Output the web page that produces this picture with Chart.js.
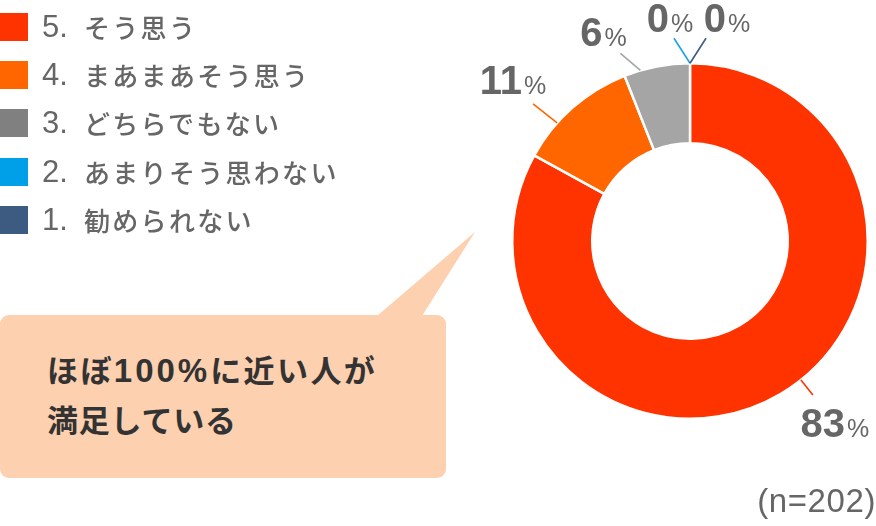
<!DOCTYPE html>
<html>
<head>
<meta charset="utf-8">
<script src="https://cdn.jsdelivr.net/npm/chart.js@4.4.1/dist/chart.umd.min.js"></script>
<style>
  html, body { margin:0; padding:0; background:#fff; }
  #wrap { position:relative; width:876px; height:526px; overflow:hidden; }
  #c { position:absolute; left:0; top:0; }
  #legend { position:absolute; left:0; top:0; color:#666; }
  .row { position:absolute; left:0; height:28px; white-space:nowrap; }
  .sw { position:absolute; left:0; top:0; width:28px; height:28px; }
  .ln { position:absolute; left:42px; top:-3px; font-family:"Liberation Sans",Arial,sans-serif; font-size:31px; line-height:34px; }
  .lt { position:absolute; left:84px; top:-4px; font-family:"Noto Sans CJK JP",sans-serif; font-weight:500; font-size:26px; line-height:36px; letter-spacing:2.3px; }
  #callout { position:absolute; left:0; top:315px; width:446px; height:163px; background:#FDD0AF; border-radius:9px; }
  #tail { position:absolute; left:0; top:0; }
  #ctext { position:absolute; left:47px; top:345px; font-family:"Noto Sans CJK JP",sans-serif; font-weight:bold; font-size:31px; line-height:48px; color:#333; white-space:nowrap; }
  #ctext .l1 { letter-spacing:2.4px; }
  #ctext .l2 { letter-spacing:0.8px; }
  #ctext .d { font-family:"Liberation Sans",Arial,sans-serif; font-size:33px; letter-spacing:3px; }
  #n { position:absolute; right:0px; top:482px; font-family:"Liberation Sans",Arial,sans-serif; font-size:33px; letter-spacing:0.6px; color:#666; }
</style>
</head>
<body>
<div id="wrap">
  <svg id="tail" width="876" height="526"><polygon points="377,316 422,316 475,232" fill="#FDD0AF"/></svg>
  <div id="callout"></div>
  <div id="ctext"><span class="l1">ほぼ<span class="d">100%</span>に近い人が</span><br><span class="l2">満足している</span></div>
  <canvas id="c" width="876" height="526"></canvas>
  <div id="legend"></div>
  <div id="n">(n=202)</div>
</div>
<script>
const categories = ["5. そう思う", "4. まあまあそう思う", "3. どちらでもない", "2. あまりそう思わない", "1. 勧められない"];
const values = [83, 11, 6, 0, 0];
const sliceColors = ["#FF3300", "#FF6600", "#A5A5A5", "#1AA3E0", "#3D5A80"];
const legendColors = ["#FF3300", "#FF6600", "#808080", "#00A0E9", "#3D5A80"];

// label layout (styles): angle shift of leader start (deg), leader vector, text center offset from leader end
const labelLayout = [
  { shift: -8,  lv: [12, 15],  tc: [22, 28] },
  { shift: -7,  lv: [-24, -19], tc: [-20, -24] },
  { shift: -5.4, lv: [-20, -17], tc: [-17, -21] },
  { shift: 0,   lv: [-16, -25], tc: [-4, -20] },
  { shift: 0,   lv: [16, -25],  tc: [21, -20] }
];

// legend
const lg = document.getElementById('legend');
categories.forEach((t, i) => {
  const k = t.indexOf(' ');
  const r = document.createElement('div');
  r.className = 'row';
  r.style.top = (13 + i * 48.2) + 'px';
  r.innerHTML = '<div class="sw" style="background:' + legendColors[i] + '"></div>' +
    '<div class="ln">' + t.slice(0, k) + '</div><div class="lt">' + t.slice(k + 1) + '</div>';
  lg.appendChild(r);
});

const labelPlugin = {
  id: 'pctLabels',
  afterDraw(chart) {
    const ctx = chart.ctx;
    const meta = chart.getDatasetMeta(0);
    meta.data.forEach((arc, i) => {
      const p = arc.getProps(['x', 'y', 'startAngle', 'endAngle', 'outerRadius'], true);
      const L = labelLayout[i];
      const mid = (p.startAngle + p.endAngle) / 2 + L.shift * Math.PI / 180;
      const sx = p.x + Math.cos(mid) * p.outerRadius;
      const sy = p.y + Math.sin(mid) * p.outerRadius;
      const ex = sx + L.lv[0], ey = sy + L.lv[1];
      ctx.save();
      ctx.strokeStyle = sliceColors[i];
      ctx.lineWidth = 1.6;
      ctx.beginPath(); ctx.moveTo(sx, sy); ctx.lineTo(ex, ey); ctx.stroke();
      const num = String(values[i]);
      ctx.fillStyle = '#666';
      ctx.textBaseline = 'alphabetic';
      const nf = 'bold 40px "Liberation Sans", Arial, sans-serif';
      const pf = '25px "Liberation Sans", Arial, sans-serif';
      ctx.font = nf;
      const nw = ctx.measureText(num).width;
      ctx.font = pf;
      const pw = ctx.measureText('%').width;
      const cx = ex + L.tc[0], cy = ey + L.tc[1];
      const left = cx - (nw + 2 + pw) / 2;
      const base = cy + 14;
      ctx.font = nf;
      ctx.textAlign = 'left';
      ctx.fillText(num, left, base);
      ctx.font = pf;
      ctx.fillText('%', left + nw + 2, base);
      ctx.restore();
    });
  }
};

new Chart(document.getElementById('c'), {
  type: 'doughnut',
  data: {
    labels: categories,
    datasets: [{
      data: values,
      backgroundColor: sliceColors,
      borderColor: '#ffffff',
      borderWidth: 2.5
    }]
  },
  options: {
    responsive: false,
    animation: false,
    cutout: '55%',
    layout: { padding: { left: 511, right: 7, top: 62, bottom: 106 } },
    plugins: { legend: { display: false }, tooltip: { enabled: false } },
    events: []
  },
  plugins: [labelPlugin]
});
</script>
</body>
</html>
